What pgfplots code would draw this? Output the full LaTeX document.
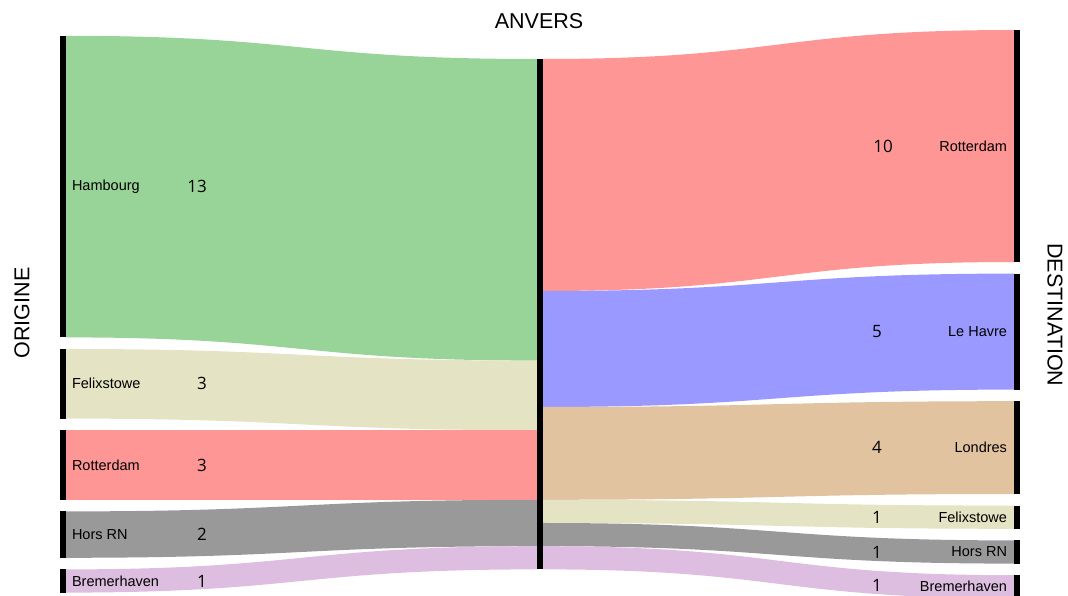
\documentclass[border=0pt]{standalone}
\usepackage{pgfplots}
\pgfplotsset{compat=1.18}
\usepackage{fontspec}
\setmainfont{Liberation Sans}
\newfontfamily\numfont{Open Sans}
\definecolor{cHam}{RGB}{152,212,152}
\definecolor{cFel}{RGB}{228,228,196}
\definecolor{cRot}{RGB}{255,150,150}
\definecolor{cHor}{RGB}{153,153,153}
\definecolor{cBre}{RGB}{222,190,224}
\definecolor{cHav}{RGB}{153,153,255}
\definecolor{cLon}{RGB}{226,195,160}
% flow: x0, top0, bot0, x1, top1, bot1, xmid, colour
\newcommand{\flow}[8]{%
  \fill[#8] (axis cs:#1,#2) .. controls (axis cs:#7,#2) and (axis cs:#7,#5) .. (axis cs:#4,#5)
    -- (axis cs:#4,#6) .. controls (axis cs:#7,#6) and (axis cs:#7,#3) .. (axis cs:#1,#3) -- cycle;}
\newcommand{\lab}{\fontsize{14.5bp}{16bp}\selectfont}
\newcommand{\num}{\numfont\fontsize{17bp}{18bp}\selectfont}
\newcommand{\ttl}{\fontsize{21.5bp}{24bp}\selectfont}
\begin{document}
\begin{tikzpicture}
\begin{axis}[
  scale only axis, width=1068bp, height=596bp,
  xmin=0, xmax=1068, ymin=-2.543, ymax=23.147, y dir=reverse,
  hide axis, clip=true, unbounded coords=jump]
% origin -> Anvers (values: 13, 3, 3, 2, 1)
\flow{66}{-1}{12}{537}{0}{13}{301.5}{cHam}
\flow{66}{12.5}{15.5}{537}{13}{16}{301.5}{cFel}
\flow{66}{16}{19}{537}{16}{19}{301.5}{cRot}
\flow{66}{19.5}{21.5}{537}{19}{21}{301.5}{cHor}
\flow{66}{22}{23}{537}{21}{22}{301.5}{cBre}
% Anvers -> destination (values: 10, 5, 4, 1, 1, 1)
\flow{543}{0}{10}{1014}{-1.25}{8.75}{778.5}{cRot}
\flow{543}{10}{15}{1014}{9.25}{14.25}{778.5}{cHav}
\flow{543}{15}{19}{1014}{14.75}{18.75}{778.5}{cLon}
\flow{543}{19}{20}{1014}{19.25}{20.25}{778.5}{cFel}
\flow{543}{20}{21}{1014}{20.75}{21.75}{778.5}{cHor}
\flow{543}{21}{22}{1014}{22.25}{23.25}{778.5}{cBre}
% node bars
\addplot[black, line width=6bp, no markers] coordinates {
 (63,-1) (63,12) (nan,nan) (63,12.5) (63,15.5) (nan,nan) (63,16) (63,19) (nan,nan)
 (63,19.5) (63,21.5) (nan,nan) (63,22) (63,23)};
\addplot[black, line width=6bp, no markers] coordinates {(540,0) (540,22)};
\addplot[black, line width=6bp, no markers] coordinates {
 (1017,-1.25) (1017,8.75) (nan,nan) (1017,9.25) (1017,14.25) (nan,nan) (1017,14.75) (1017,18.75) (nan,nan)
 (1017,19.25) (1017,20.25) (nan,nan) (1017,20.75) (1017,21.75) (nan,nan) (1017,22.25) (1017,23.25)};
% left labels
\node[anchor=west,font=\lab] at (axis cs:68.5,5.5) {Hambourg};
\node[anchor=west,font=\lab] at (axis cs:68.5,14) {Felixstowe};
\node[anchor=west,font=\lab] at (axis cs:68.5,17.5) {Rotterdam};
\node[anchor=west,font=\lab] at (axis cs:68.5,20.5) {Hors RN};
\node[anchor=west,font=\lab] at (axis cs:68.5,22.5) {Bremerhaven};
\node[font=\num] at (axis cs:197,5.5) {13};
\node[font=\num] at (axis cs:202,14) {3};
\node[font=\num] at (axis cs:202,17.5) {3};
\node[font=\num] at (axis cs:202,20.5) {2};
\node[font=\num] at (axis cs:202,22.5) {1};
% right labels
\node[anchor=east,font=\lab] at (axis cs:1010.5,3.75) {Rotterdam};
\node[anchor=east,font=\lab] at (axis cs:1010.5,11.75) {Le Havre};
\node[anchor=east,font=\lab] at (axis cs:1010.5,16.75) {Londres};
\node[anchor=east,font=\lab] at (axis cs:1010.5,19.75) {Felixstowe};
\node[anchor=east,font=\lab] at (axis cs:1010.5,21.25) {Hors RN};
\node[anchor=east,font=\lab] at (axis cs:1010.5,22.75) {Bremerhaven};
\node[font=\num] at (axis cs:883,3.75) {10};
\node[font=\num] at (axis cs:877,11.75) {5};
\node[font=\num] at (axis cs:877,16.75) {4};
\node[font=\num] at (axis cs:877,19.75) {1};
\node[font=\num] at (axis cs:877,21.25) {1};
\node[font=\num] at (axis cs:877,22.7) {1};
% titles
\node[font=\ttl] at (axis cs:539,-1.64) {ANVERS};
\node[font=\ttl, rotate=90] at (axis cs:22,10.95) {ORIGINE};
\node[font=\ttl, rotate=-90] at (axis cs:1055,11.03) {DESTINATION};
\end{axis}
\path (current axis.south west) rectangle (current axis.north east);
\end{tikzpicture}
\end{document}
